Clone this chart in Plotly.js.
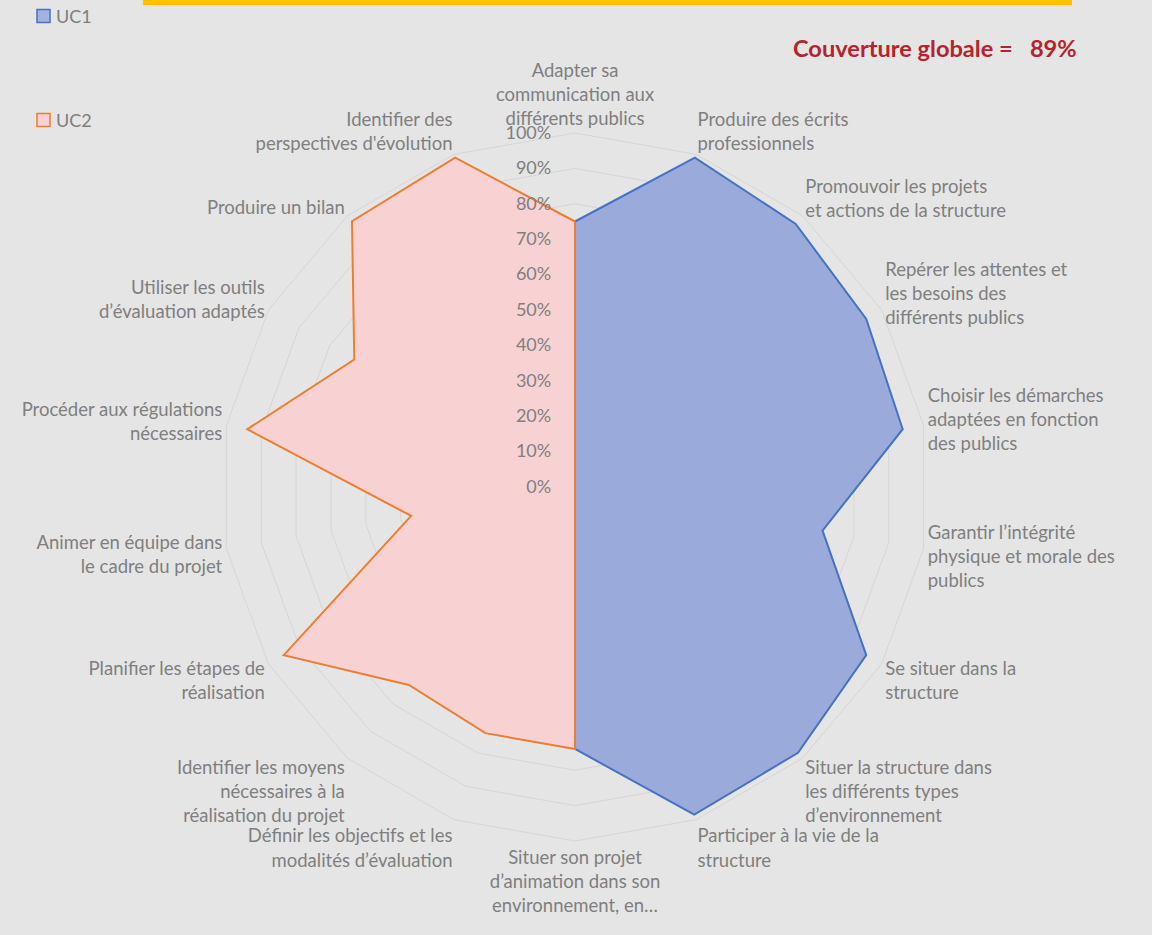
<!DOCTYPE html>
<html>
<head>
<meta charset="utf-8">
<script src="https://cdn.plot.ly/plotly-3.0.1.min.js"></script>
<style>html,body{margin:0;padding:0;background:#e5e5e5;}#chart{width:1152px;height:935px;}</style>
</head>
<body>
<div id="chart"></div>
<script>
const categories = [
  "Adapter sa<br>communication aux<br>différents publics",
  "Produire des écrits<br>professionnels",
  "Promouvoir les projets<br>et actions de la structure",
  "Repérer les attentes et<br>les besoins des<br>différents publics",
  "Choisir les démarches<br>adaptées en fonction<br>des publics",
  "Garantir l’intégrité<br>physique et morale des<br>publics",
  "Se situer dans la<br>structure",
  "Situer la structure dans<br>les différents types<br>d’environnement",
  "Participer à la vie de la<br>structure",
  "Situer son projet<br>d’animation dans son<br>environnement, en…",
  "Définir les objectifs et les<br>modalités d’évaluation",
  "Identifier les moyens<br>nécessaires à la<br>réalisation du projet",
  "Planifier les étapes de<br>réalisation",
  "Animer en équipe dans<br>le cadre du projet",
  "Procéder aux régulations<br>nécessaires",
  "Utiliser les outils<br>d’évaluation adaptés",
  "Produire un bilan",
  "Identifier des<br>perspectives d'évolution"
];
const uc1 = [0.75, 0.99, 0.97, 0.95, 0.94, 0.71, 0.95, 0.98, 0.985, 0.74, 0, 0, 0, 0, 0, 0, 0, 0];
const uc2 = [0.75, 0, 0, 0, 0, 0, 0, 0, 0, 0.74, 0.74, 0.73, 0.95, 0.47, 0.94, 0.72, 0.98, 0.99];
const radialTicks = [0, 0.1, 0.2, 0.3, 0.4, 0.5, 0.6, 0.7, 0.8, 0.9, 1.0];
const seriesNames = ["UC1", "UC2"];
const globalCoverage = "89%";

const closeLoop = a => a.concat([a[0]]);
const font = "Lato, 'Open Sans', sans-serif";
const uc1Fill = "#99aadb", uc1Line = "#4472c4";
const uc2Fill = "#f8d2d3", uc2Line = "#ed7d31";

const traces = [
  {
    type: "scatterpolar", name: seriesNames[0],
    r: closeLoop(uc1), theta: closeLoop(categories),
    mode: "lines", fill: "toself", fillcolor: uc1Fill,
    line: {color: uc1Line, width: 2}, hoverinfo: "skip"
  },
  {
    type: "scatterpolar", name: seriesNames[1],
    r: closeLoop(uc2), theta: closeLoop(categories),
    mode: "lines", fill: "toself", fillcolor: uc2Fill,
    line: {color: uc2Line, width: 2}, hoverinfo: "skip"
  }
];

// Legend drawn as squares + labels (Excel style)
const legendItems = [
  {name: seriesNames[0], fill: "#a3b2df", line: uc1Line, yc: 16},
  {name: seriesNames[1], fill: uc2Fill, line: uc2Line, yc: 120}
];
const shapes = [
  {type: "rect", xref: "paper", yref: "paper", x0: 143/1152, x1: 1072/1152, y0: 1 - 5/935, y1: 1,
   fillcolor: "#ffc000", line: {width: 0}}
];
const annotations = [
  {xref: "paper", yref: "paper", x: 791/1152, y: 1 - 48/935, xanchor: "left", yanchor: "middle",
   showarrow: false, text: "<b>Couverture globale =\u00a0\u00a0\u00a0" + globalCoverage + "</b>",
   font: {size: 23.6, color: "#b5242a", family: font}}
];
legendItems.forEach(it => {
  shapes.push({type: "rect", xref: "paper", yref: "paper",
    x0: 37/1152, x1: 50/1152, y0: 1 - (it.yc + 6.5)/935, y1: 1 - (it.yc - 6.5)/935,
    fillcolor: it.fill, line: {color: it.line, width: 1.5}});
  annotations.push({xref: "paper", yref: "paper", x: 54/1152, y: 1 - it.yc/935,
    xanchor: "left", yanchor: "middle", showarrow: false, text: it.name,
    font: {size: 18, color: "#7f7f7f", family: font}});
});

const layout = {
  width: 1152, height: 935,
  paper_bgcolor: "#e5e5e5",
  margin: {l: 0, r: 0, t: 0, b: 0},
  font: {family: font, color: "#7f7f7f", size: 18.5},
  showlegend: false,
  polar: {
    domain: {x: [221/1152, 929/1152], y: [94/935, 802/935]},
    bgcolor: "rgba(0,0,0,0)",
    gridshape: "linear",
    angularaxis: {
      direction: "clockwise", rotation: 90,
      type: "category",
      categoryarray: categories,
      showgrid: false,
      showline: true, linecolor: "#d6d6d6", linewidth: 1,
      ticks: "",
      tickfont: {size: 18.5, color: "#7f7f7f", family: font}
    },
    radialaxis: {
      range: [0, 1],
      tickvals: radialTicks,
      tickformat: ".0%",
      angle: 90, tickangle: 90,
      side: "counterclockwise",
      showline: false,
      ticks: "outside", ticklen: 17, tickcolor: "rgba(0,0,0,0)",
      gridcolor: "#d6d6d6", gridwidth: 1,
      tickfont: {size: 18, color: "#7f7f7f", family: font}
    }
  },
  shapes: shapes,
  annotations: annotations
};

Plotly.newPlot("chart", traces, layout, {displayModeBar: false, staticPlot: true});
</script>
</body>
</html>
